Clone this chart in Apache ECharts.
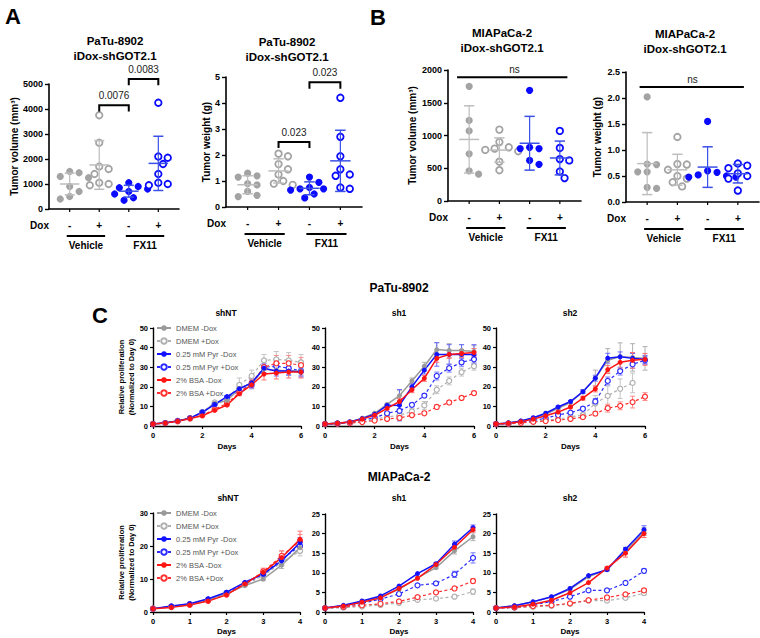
<!DOCTYPE html>
<html><head><meta charset="utf-8">
<script src="https://cdn.jsdelivr.net/npm/echarts@6/dist/echarts.min.js"></script>
<style>html,body{margin:0;padding:0;background:#fff}#c{width:760px;height:638px}</style>
</head><body><div id="c"></div><script>
// ---------------- DATA ----------------
const groupNames = ['Vehicle', 'FX11'];
const doxLabels = ['-', '+', '-', '+'];
// groups: Vehicle -Dox, Vehicle +Dox, FX11 -Dox, FX11 +Dox
const volPaTu = [
  [1500, 1450, 1300, 1250, 900, 700, 500, 400],
  [3750, 2650, 1700, 1600, 1400, 1050, 1000, 950],
  [1050, 900, 850, 800, 700, 600, 450, 350],
  [4250, 2100, 2050, 1800, 1400, 1050, 1000, 950]
];
const wtPaTu = [
  [1.3, 1.2, 1.15, 0.9, 0.85, 0.6, 0.45, 0.4],
  [2.05, 1.95, 1.65, 1.45, 1.25, 1.0, 0.9, 0.85],
  [1.15, 0.95, 0.75, 0.7, 0.7, 0.65, 0.5, 0.35],
  [4.2, 2.7, 1.95, 1.45, 1.25, 1.2, 0.75, 0.7]
];
const volMia = [
  [1750, 1230, 1070, 720, 460, 410],
  [1090, 900, 820, 800, 780, 760, 600, 470],
  [1690, 820, 800, 800, 620, 560],
  [1070, 810, 640, 620, 450, 350]
];
const wtMia = [
  [2.02, 0.73, 0.72, 0.58, 0.58, 0.28, 0.26],
  [1.25, 0.73, 0.72, 0.62, 0.5, 0.45, 0.38, 0.3],
  [1.55, 0.6, 0.57, 0.52, 0.5, 0.48, 0.48],
  [0.74, 0.7, 0.65, 0.55, 0.5, 0.45, 0.22]
];
const sigVolPaTu = [{from: 1, to: 2, top: 4150, leg: 3900, label: '0.0076'}, {from: 2, to: 3, top: 5200, leg: 4950, label: '0.0083'}];
const sigWtPaTu = [{from: 1, to: 2, top: 2.5, leg: 2.27, label: '0.023'}, {from: 2, to: 3, top: 4.8, leg: 4.55, label: '0.023'}];
const sigVolMia = [{from: -0.4, to: 3.25, top: 1890, leg: 1890, label: 'ns'}];
const sigWtMia = [{from: -0.25, to: 3.2, top: 2.21, leg: 2.21, label: 'ns'}];

const seriesNames = ['DMEM -Dox', 'DMEM +Dox', '0.25 mM Pyr -Dox', '0.25 mM Pyr +Dox', '2% BSA -Dox', '2% BSA +Dox'];
const daysPaTu = [0, 0.5, 1, 1.5, 2, 2.5, 3, 3.5, 4, 4.5, 5, 5.5, 6];
const daysMia = [0, 0.5, 1, 1.5, 2, 2.5, 3, 3.5, 4];

const patuShNT = [
  [1, 1.6, 2.5, 4, 7, 11.5, 13, 19, 22, 29, 28.5, 28, 28],
  [1, 1.6, 2.6, 4, 7, 12, 13.5, 21, 25.5, 33.5, 34, 33.5, 32.5],
  [1, 1.6, 2.6, 4, 7, 11, 15, 19, 22, 29.5, 28, 28, 27.5],
  [1, 1.5, 2.6, 4, 7, 11, 14.5, 18, 21, 30, 30.5, 29.5, 28],
  [1, 1.5, 2.4, 3.8, 5.2, 8, 10.7, 16.5, 21, 26.5, 27, 27.5, 27.5],
  [1, 1.5, 2.4, 3.8, 5.5, 8.5, 11.5, 17, 22, 30, 32, 32, 31]
];
const patuShNTErr = [
  [0, 0, 0, 0, 0, 0, 0, 1.5, 2, 2, 2, 2, 2],
  [0, 0, 0, 0, 0, 0.5, 1, 3.5, 3, 3, 4, 4, 4],
  [0, 0, 0, 0, 0, 0.5, 0.5, 1.5, 2, 2.5, 2.5, 2, 2],
  [0, 0, 0, 0, 0, 0.5, 1, 2, 2, 3, 3, 3.5, 3],
  [0, 0, 0, 0, 0, 0.5, 0.5, 1, 1.5, 3, 3, 3, 3],
  [0, 0, 0, 0, 0, 0.5, 1, 1.5, 2, 3, 4, 4, 4]
];
const patuSh1 = [
  [1, 1.5, 2, 4, 6.5, 11, 15.5, 23, 30.5, 39, 38.5, 38.5, 38],
  [1, 1.2, 1.5, 2.2, 3.5, 4.6, 5.5, 7.4, 10.5, 18.5, 23, 27.5, 30.5],
  [1, 1.4, 2, 3.8, 6, 10.5, 10.6, 20, 28.5, 36.5, 36.5, 36.5, 36.5],
  [1, 1.3, 1.8, 3, 4.2, 6.5, 7.7, 10.8, 15.5, 25.5, 29.5, 32.5, 34],
  [1, 1.4, 2, 3.5, 5.5, 9, 12.5, 18.5, 24.3, 34.5, 36.5, 37, 37.5],
  [1, 1.2, 1.5, 2, 2.8, 3.6, 4.1, 5.5, 6.5, 9.7, 12, 14.3, 16.8]
];
const patuSh1Err = [
  [0, 0, 0, 0, 0.5, 0.5, 2.5, 1.5, 2, 3.5, 3.5, 3, 3],
  [0, 0, 0, 0, 0, 0.5, 1, 1.5, 2, 2, 2, 2, 2],
  [0, 0, 0, 0, 0.5, 0.5, 8, 1.5, 2, 6, 5, 5, 5],
  [0, 0, 0, 0, 0, 0.5, 1, 1, 1, 2, 2, 2, 2],
  [0, 0, 0, 0, 0.5, 0.5, 1.5, 1.5, 1.5, 2, 2, 2, 2],
  [0, 0, 0, 0, 0, 0.5, 0.5, 0.5, 0.5, 1, 1, 1, 1]
];
const patuSh2 = [
  [1, 1.5, 2.5, 4, 6, 9, 12, 17.5, 24.5, 33.5, 35.4, 35, 34.5],
  [1, 1.2, 1.6, 2.3, 3, 3.5, 4.6, 5.6, 11.5, 15.4, 19, 22],
  [1, 1.5, 2.6, 4.2, 6.5, 9.7, 12.5, 17.5, 24.4, 34.6, 35.3, 34.5, 34],
  [1, 1.3, 1.9, 2.8, 4, 5.6, 6.8, 8.8, 12.5, 23, 28, 31.5, 33.5],
  [1, 1.4, 2.2, 3.5, 5.2, 7.1, 9.7, 14.2, 18.9, 28.8, 32.5, 33.5, 34],
  [1, 1.2, 1.6, 2.1, 2.5, 3, 3.6, 4.5, 6.3, 9.1, 10.3, 12.2, 15]
];
const patuSh2Err = [
  [0, 0, 0, 0, 0, 0.5, 0.5, 1, 4, 6, 7, 7, 6],
  [0, 0, 0, 0, 0, 0, 0, 1, 4, 5, 5, 5, 4],
  [0, 0, 0, 0, 0, 0.5, 0.5, 1, 1.5, 2.5, 2.5, 2.5, 2],
  [0, 0, 0, 0, 0, 0.5, 0.5, 1, 1.5, 2, 2, 2, 2],
  [0, 0, 0, 0, 0, 0.5, 0.5, 1, 1.5, 2, 3, 4, 3],
  [0, 0, 0, 0, 0, 0, 0, 0.5, 1, 2, 2, 3, 2]
];
const miaShNT = [
  [1, 1.7, 2.4, 3.8, 5.6, 8, 10, 14.2, 19.5],
  [1, 1.6, 2.3, 3.6, 5.5, 8.2, 11, 15, 18.5],
  [1, 1.8, 2.5, 4, 6, 9, 11.5, 15.5, 21],
  [1, 1.7, 2.4, 3.8, 5.8, 8.6, 11.5, 16, 20],
  [1, 1.4, 2.1, 3.3, 5.2, 8.5, 12, 16.5, 22],
  [1, 1.5, 2.2, 3.4, 5.3, 8.4, 12.3, 17, 21.5]
];
const miaShNTErr = [
  [0, 0, 0, 0, 0, 0, 0.5, 1, 1.5],
  [0, 0, 0, 0, 0, 0, 0.5, 1, 1.5],
  [0, 0, 0, 0, 0, 0, 0.5, 1, 1.5],
  [0, 0, 0, 0, 0, 0, 0.5, 1, 1.5],
  [0, 0, 0, 0, 0, 0, 1, 2, 2.5],
  [0, 0, 0, 0, 0, 0, 1, 1.5, 2]
];
const miaSh1 = [
  [1, 1.6, 2.6, 3.9, 5.8, 8.7, 11.3, 15.6, 19.2],
  [1, 1.1, 1.4, 1.8, 2.3, 3.1, 3.4, 3.9, 5.2],
  [1, 1.7, 2.8, 4.1, 6.6, 9.8, 12.3, 17.3, 21.5],
  [1, 1.3, 2.2, 3.3, 4.6, 6.8, 7.3, 9.6, 13.8],
  [1, 1.5, 2.5, 3.6, 6, 8.6, 12.1, 16.5, 21],
  [1, 1.3, 1.7, 2.1, 2.7, 3.8, 5, 6, 7.9]
];
const miaSh1Err = [
  [0, 0, 0, 0, 0, 0, 0.3, 0.8, 1],
  [0, 0, 0, 0, 0, 0, 0, 0.4, 0.7],
  [0, 0, 0, 0, 0, 0, 0.3, 0.8, 0.7],
  [0, 0, 0, 0, 0, 0, 0.4, 0.8, 1.3],
  [0, 0, 0, 0, 0, 0, 0.3, 0.6, 0.6],
  [0, 0, 0, 0, 0, 0, 0.3, 0.4, 0.6]
];
const miaSh2 = [
  [1, 1.6, 2.6, 3.8, 5.8, 9, 10.8, 15.5, 20.5],
  [1, 1.1, 1.3, 1.6, 2.1, 2.9, 2.9, 3.6, 4.8],
  [1, 1.6, 2.6, 3.9, 6, 9.3, 10.8, 16, 21],
  [1, 1.2, 1.8, 2.65, 3.9, 5.5, 5.5, 7.4, 10.5],
  [1, 1.3, 2, 3, 4.9, 7.5, 11.2, 15, 20],
  [1, 1.2, 1.5, 1.7, 2.2, 3, 3.7, 4.5, 5.5]
];
const miaSh2Err = [
  [0, 0, 0, 0, 0, 0, 0.3, 0.5, 1],
  [0, 0, 0, 0, 0, 0, 0, 0.3, 0.5],
  [0, 0, 0, 0, 0, 0, 0.3, 0.5, 1],
  [0, 0, 0, 0, 0, 0, 0.3, 0.4, 0.6],
  [0, 0, 0, 0, 0, 0, 0.3, 1, 1],
  [0, 0, 0, 0, 0, 0, 0.3, 0.3, 0.5]
];

// ---------------- STYLE / LAYOUT ----------------
const FF = '"Liberation Sans", Arial, Helvetica, sans-serif';
const groupStyles = [
  {color: '#a3a3a3', open: false, bar: '#bdbdbd'},
  {color: '#a3a3a3', open: true, bar: '#bdbdbd'},
  {color: '#0a0aff', open: false, bar: '#3a50e6'},
  {color: '#0a0aff', open: true, bar: '#3a50e6'}
];
const lineStyles = [
  {color: '#9a9a9a', open: false, dash: false, err: '#b0b0b0'},
  {color: '#b0b0b0', open: true, dash: true, err: '#c4c4c4'},
  {color: '#1212ff', open: false, dash: false, err: '#6a6aff'},
  {color: '#2b2bff', open: true, dash: true, err: '#7a7aff'},
  {color: '#ff1414', open: false, dash: false, err: '#ff7070'},
  {color: '#ff3030', open: true, dash: true, err: '#ff8a8a'}
];
const scatterPanels = [
  {data: volPaTu, sig: sigVolPaTu, left: 49, top: 84, width: 130, height: 125, max: 5000, interval: 1000, name: 'Tumor volume (mm³)', nameGap: 30, fmt: v => String(v)},
  {data: wtPaTu, sig: sigWtPaTu, left: 226, top: 77, width: 136, height: 130, max: 5, interval: 1, name: 'Tumor weight (g)', nameGap: 13, fmt: v => String(v)},
  {data: volMia, sig: sigVolMia, left: 448, top: 70, width: 133, height: 131, max: 2000, interval: 500, name: 'Tumor volume (mm³)', nameGap: 31, fmt: v => String(v)},
  {data: wtMia, sig: sigWtMia, left: 626, top: 72, width: 133, height: 130, max: 2.5, interval: 0.5, name: 'Tumor weight (g)', nameGap: 24, fmt: v => v.toFixed(1)}
];
const prolifPanels = [
  {vals: patuShNT, err: patuShNTErr, days: daysPaTu, left: 153, top: 328, w: 148, h: 98, ymax: 50, yint: 10, xmax: 6, xint: 2, yname: true, gapX: 16},
  {vals: patuSh1, err: patuSh1Err, days: daysPaTu, left: 325, top: 328, w: 149, h: 98, ymax: 50, yint: 10, xmax: 6, xint: 2, yname: false, gapX: 16},
  {vals: patuSh2, err: patuSh2Err, days: daysPaTu, left: 496, top: 328, w: 149, h: 98, ymax: 50, yint: 10, xmax: 6, xint: 2, yname: false, gapX: 16},
  {vals: miaShNT, err: miaShNTErr, days: daysMia, left: 153, top: 513, w: 147, h: 99, ymax: 30, yint: 10, xmax: 4, xint: 1, yname: true, gapX: 15},
  {vals: miaSh1, err: miaSh1Err, days: daysMia, left: 325, top: 514, w: 148, h: 98, ymax: 25, yint: 5, xmax: 4, xint: 1, yname: false, gapX: 15},
  {vals: miaSh2, err: miaSh2Err, days: daysMia, left: 496, top: 514, w: 148, h: 98, ymax: 25, yint: 5, xmax: 4, xint: 1, yname: false, gapX: 15}
];
const titleTexts = [
  {t: 'A', x: 13, y: 16, s: 22}, {t: 'B', x: 378, y: 17, s: 22}, {t: 'C', x: 100, y: 315, s: 22},
  {t: 'PaTu-8902', x: 115, y: 41, s: 11.5}, {t: 'iDox-shGOT2.1', x: 115, y: 56, s: 11.5},
  {t: 'PaTu-8902', x: 287, y: 42, s: 11.5}, {t: 'iDox-shGOT2.1', x: 287, y: 57, s: 11.5},
  {t: 'MIAPaCa-2', x: 502, y: 33, s: 11.5}, {t: 'iDox-shGOT2.1', x: 502, y: 48, s: 11.5},
  {t: 'MIAPaCa-2', x: 685, y: 34, s: 11.5}, {t: 'iDox-shGOT2.1', x: 685, y: 49, s: 11.5},
  {t: 'PaTu-8902', x: 399, y: 288, s: 12},
  {t: 'shNT', x: 226, y: 313, s: 8.5}, {t: 'sh1', x: 399, y: 313, s: 8.5}, {t: 'sh2', x: 570, y: 313, s: 8.5},
  {t: 'MIAPaCa-2', x: 399, y: 477, s: 12},
  {t: 'shNT', x: 228, y: 498, s: 8.5}, {t: 'sh1', x: 399, y: 498, s: 8.5}, {t: 'sh2', x: 570, y: 498, s: 8.5}
];

// ---------------- HELPERS ----------------
function swarm(vals, pxY, pxX, d) {
  const order = vals.map((v, i) => i).sort((a, b) => vals[b] - vals[a]);
  const placed = [], off = new Array(vals.length).fill(0), step = d * 0.62;
  for (const i of order) {
    const y = vals[i] * pxY;
    for (let k = 0; k < 30; k++) {
      const m = k === 0 ? 0 : (k % 2 ? Math.ceil(k / 2) : -k / 2);
      const x = m * step;
      if (placed.every(p => Math.hypot(p[0] - x, p[1] - y) >= d)) { placed.push([x, y]); off[i] = x / pxX; break; }
    }
  }
  return off;
}
function txt(t, x, y, font, align, color) {
  return {type: 'text', x: x, y: y, style: {text: t, font: font, fill: color || '#000',
    textAlign: align || 'center', textVerticalAlign: 'middle', align: align || 'center', verticalAlign: 'middle'}};
}
function meanSd(vals) {
  const m = vals.reduce((a, b) => a + b, 0) / vals.length;
  const sd = Math.sqrt(vals.reduce((a, b) => a + (b - m) * (b - m), 0) / (vals.length - 1));
  return [m, sd];
}

const grids = [], xAxes = [], yAxes = [], series = [];
const axisLineStyle = {color: '#000', width: 1.6};

scatterPanels.forEach(p => {
  const gi = grids.length;
  grids.push({left: p.left, top: p.top, width: p.width, height: p.height, containLabel: false, outerBoundsMode: 'none'});
  xAxes.push({gridIndex: gi, type: 'value', min: -0.7, max: 3.7, axisLine: {show: true, onZero: false, lineStyle: axisLineStyle},
    axisTick: {show: false}, axisLabel: {show: false}, splitLine: {show: false}});
  yAxes.push({gridIndex: gi, type: 'value', min: 0, max: p.max, interval: p.interval,
    axisLine: {show: true, onZero: false, lineStyle: axisLineStyle},
    axisTick: {show: true, length: 4, lineStyle: {color: '#000', width: 1.4}},
    axisLabel: {color: '#000', fontWeight: 'bold', fontSize: 9, fontFamily: FF, margin: 6, formatter: p.fmt},
    splitLine: {show: false}, name: p.name, nameLocation: 'middle', nameRotate: 90, nameGap: p.nameGap,
    nameTextStyle: {color: '#000', fontWeight: 'bold', fontSize: 10, fontFamily: FF}});
  const pxY = p.height / p.max, pxX = p.width / 4.4;
  p.data.forEach((vals, g) => {
    const off = swarm(vals, pxY, pxX, 7.6);
    const st = groupStyles[g];
    series.push({type: 'scatter', xAxisIndex: gi, yAxisIndex: gi, silent: true, z: 3,
      data: vals.map((v, i) => [g + off[i], v]), symbol: 'circle', symbolSize: st.open ? 6.5 : 7.2,
      itemStyle: st.open ? {color: '#fff', borderColor: st.color, borderWidth: 1.8, opacity: 1} : {color: st.color, opacity: 1}});
  });
  const stats = p.data.map((vals, g) => { const r = meanSd(vals); return [g, r[0], r[1]]; });
  series.push({type: 'custom', xAxisIndex: gi, yAxisIndex: gi, silent: true, z: 4, clip: false, data: stats,
    renderItem: (params, api) => {
      const g = api.value(0), m = api.value(1), sd = api.value(2);
      const c = api.coord([g, m]), t = api.coord([g, m + sd]), b = api.coord([g, Math.max(0, m - sd)]);
      const ux = api.size([1, 0])[0], col = groupStyles[g].bar;
      const ls = {stroke: col, lineWidth: 1.5};
      return {type: 'group', children: [
        {type: 'line', shape: {x1: c[0] - 0.33 * ux, y1: c[1], x2: c[0] + 0.33 * ux, y2: c[1]}, style: ls},
        {type: 'line', shape: {x1: c[0], y1: t[1], x2: c[0], y2: b[1]}, style: {stroke: col, lineWidth: 1.2}},
        {type: 'line', shape: {x1: c[0] - 0.17 * ux, y1: t[1], x2: c[0] + 0.17 * ux, y2: t[1]}, style: ls},
        {type: 'line', shape: {x1: c[0] - 0.17 * ux, y1: b[1], x2: c[0] + 0.17 * ux, y2: b[1]}, style: ls}
      ]};
    }});
  series.push({type: 'custom', xAxisIndex: gi, yAxisIndex: gi, silent: true, z: 5, clip: false, data: [[0, 0]],
    renderItem: (params, api) => {
      const y0 = api.coord([0, 0])[1];
      const xAt = g => api.coord([g, 0])[0];
      const yAt = v => api.coord([0, v])[1];
      const kids = [];
      const bf10 = 'bold 10px ' + FF;
      doxLabels.forEach((t, g) => {
        kids.push({type: 'line', shape: {x1: xAt(g), y1: y0, x2: xAt(g), y2: y0 + 3}, style: {stroke: '#000', lineWidth: 1.2}});
        kids.push(txt(t, xAt(g), y0 + 16, bf10));
      });
      kids.push(txt('Dox', xAt(-0.7), y0 + 16, bf10, 'right'));
      groupNames.forEach((n, j) => {
        kids.push({type: 'line', shape: {x1: xAt(2 * j - 0.1), y1: y0 + 27, x2: xAt(2 * j + 1.2), y2: y0 + 27}, style: {stroke: '#000', lineWidth: 1.8}});
        kids.push(txt(n, xAt(2 * j + 0.55), y0 + 36, bf10));
      });
      p.sig.forEach(s => {
        kids.push({type: 'polyline', shape: {points: [[xAt(s.from), yAt(s.leg)], [xAt(s.from), yAt(s.top)], [xAt(s.to), yAt(s.top)], [xAt(s.to), yAt(s.leg)]]},
          style: {stroke: '#000', lineWidth: 2, fill: 'none'}});
        const isNs = s.leg === s.top;
        kids.push(txt(s.label, isNs ? xAt(1.5) : (xAt(s.from) + xAt(s.to)) / 2, yAt(s.top) - (isNs ? 8 : 10), '10px ' + FF, 'center', '#222'));
      });
      return {type: 'group', children: kids};
    }});
});

prolifPanels.forEach(p => {
  const gi = grids.length;
  grids.push({left: p.left, top: p.top, width: p.w, height: p.h, containLabel: false, outerBoundsMode: 'none'});
  xAxes.push({gridIndex: gi, type: 'value', min: 0, max: p.xmax, interval: p.xint,
    axisLine: {show: true, onZero: false, lineStyle: {color: '#000', width: 1.4}},
    axisTick: {show: true, length: 3, lineStyle: {color: '#000', width: 1.2}},
    axisLabel: {color: '#000', fontWeight: 'bold', fontSize: 7.5, fontFamily: FF, margin: 5},
    splitLine: {show: false}, name: 'Days', nameLocation: 'middle', nameGap: p.gapX,
    nameTextStyle: {color: '#000', fontWeight: 'bold', fontSize: 8, fontFamily: FF}});
  yAxes.push({gridIndex: gi, type: 'value', min: 0, max: p.ymax, interval: p.yint,
    axisLine: {show: true, onZero: false, lineStyle: {color: '#000', width: 1.4}},
    axisTick: {show: true, length: 3, lineStyle: {color: '#000', width: 1.2}},
    axisLabel: {color: '#000', fontWeight: 'bold', fontSize: 7.5, fontFamily: FF, margin: 5},
    splitLine: {show: false}, name: p.yname ? 'Relative proliferation\n(Normalized to Day 0)' : '',
    nameLocation: 'middle', nameRotate: 90, nameGap: 15,
    nameTextStyle: {color: '#000', fontWeight: 'bold', fontSize: 7.5, fontFamily: FF, lineHeight: 9.5}});
  const errData = [];
  p.vals.forEach((vals, s) => vals.forEach((v, i) => { const e = p.err[s][i]; if (e > 0) errData.push([p.days[i], v - e, v + e, s]); }));
  series.push({type: 'custom', xAxisIndex: gi, yAxisIndex: gi, silent: true, z: 1, clip: false, data: errData,
    encode: {x: 0, y: [1, 2]},
    renderItem: (params, api) => {
      const lo = api.coord([api.value(0), api.value(1)]), hi = api.coord([api.value(0), api.value(2)]);
      const col = lineStyles[api.value(3)].err, ls = {stroke: col, lineWidth: 1};
      return {type: 'group', children: [
        {type: 'line', shape: {x1: lo[0], y1: lo[1], x2: hi[0], y2: hi[1]}, style: ls},
        {type: 'line', shape: {x1: hi[0] - 2.5, y1: hi[1], x2: hi[0] + 2.5, y2: hi[1]}, style: ls},
        {type: 'line', shape: {x1: lo[0] - 2.5, y1: lo[1], x2: lo[0] + 2.5, y2: lo[1]}, style: ls}
      ]};
    }});
  [1, 3, 5, 0, 2, 4].forEach(s => {
    const st = lineStyles[s];
    series.push({type: 'line', name: seriesNames[s], xAxisIndex: gi, yAxisIndex: gi, silent: true, z: 3,
      data: p.days.map((d, i) => [d, p.vals[s][i]]).filter(r => r[1] !== undefined),
      symbol: 'circle', symbolSize: 5,
      itemStyle: st.open ? {color: '#fff', borderColor: st.color, borderWidth: 1.2} : {color: st.color},
      lineStyle: {color: st.color, width: st.open ? 1.2 : 1.5, type: st.dash ? [3, 2.5] : 'solid'},
      emphasis: {disabled: true}});
  });
});

const legendCommon = {data: seriesNames, orient: 'vertical', left: 156, padding: 0, itemWidth: 14, itemHeight: 7, itemGap: 4,
  selectedMode: false, textStyle: {fontSize: 7.5, color: '#555', fontFamily: FF, lineHeight: 9}};

const chart = echarts.init(document.getElementById('c'), null, {renderer: 'svg', width: 760, height: 638});
chart.setOption({
  animation: false,
  backgroundColor: '#fff',
  grid: grids, xAxis: xAxes, yAxis: yAxes, series: series,
  legend: [Object.assign({top: 323.5}, legendCommon), Object.assign({top: 508.5}, legendCommon)],
  graphic: titleTexts.map(o => ({type: 'text', x: o.x, y: o.y, silent: true,
    style: {text: o.t, font: 'bold ' + o.s + 'px ' + FF, fill: '#000', textAlign: 'center', textVerticalAlign: 'middle', align: 'center', verticalAlign: 'middle'}}))
});
</script></body></html>
